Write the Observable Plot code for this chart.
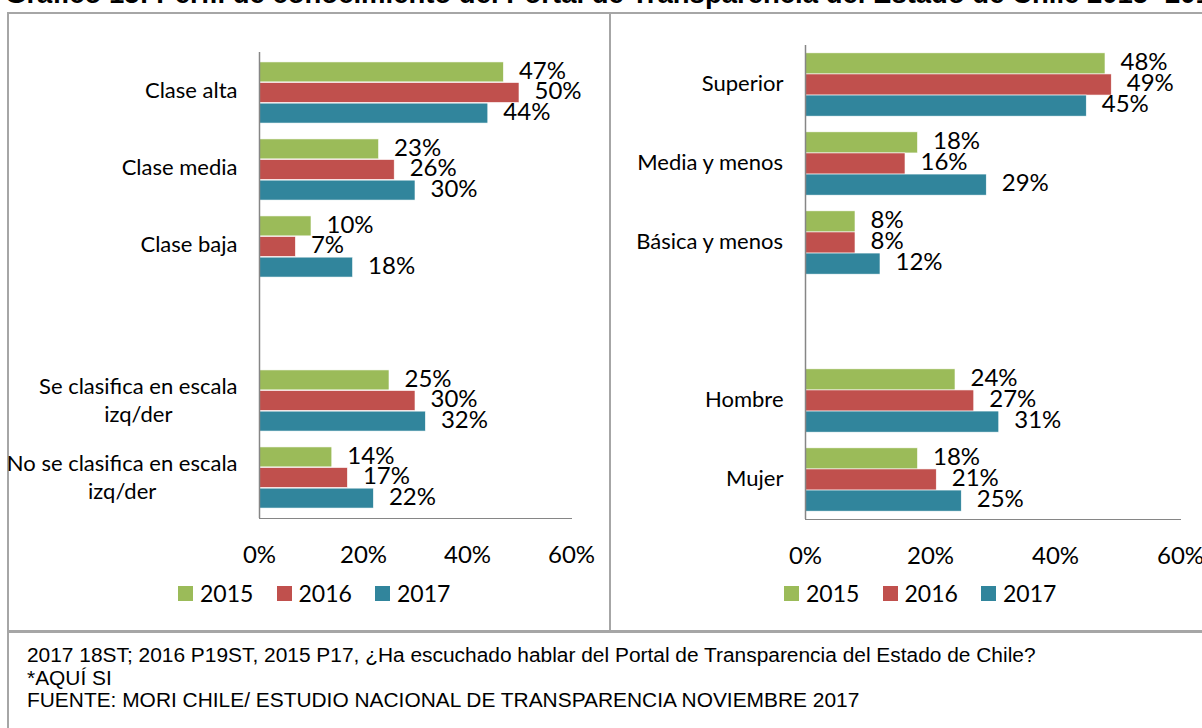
<!DOCTYPE html>
<html>
<head>
<meta charset="utf-8">
<script src="https://cdn.jsdelivr.net/npm/d3@7"></script>
<script src="https://cdn.jsdelivr.net/npm/@observablehq/plot@0.6"></script>
<style>
  html, body { margin: 0; padding: 0; background: #fff; }
  #page { position: relative; width: 1202px; height: 728px; overflow: hidden; background: #fff; }
  .abs { position: absolute; }
  #title { left: 5px; top: -20px; font: bold 27.5px "Liberation Sans", Arial, sans-serif; line-height: 28px; white-space: nowrap; color: #000; }
  .bline { position: absolute; background: #a6a6a6; }
  .legend { position: absolute; top: 578px; height: 30px; font: 23px Lato, sans-serif; color: #000; }
  .legend .item { position: absolute; top: 0; white-space: nowrap; }
  .legend .sw { position: absolute; top: 8px; left: 0; width: 15px; height: 15px; }
  .legend .lab { position: absolute; left: 22px; top: 0; line-height: 30px; }
  #notes { left: 27px; top: 644px; font: 20px "Liberation Sans Narrow", "Arial Narrow", "Liberation Sans", sans-serif; line-height: 22.5px; color: #000; white-space: nowrap; transform: scaleX(1.045); transform-origin: 0 0; }
</style>
</head>
<body>
<div id="page">
  <div id="title" class="abs">Gráfico 15: Perfil de conocimiento del Portal de Transparencia del Estado de Chile 2015- 2017</div>
  <div class="bline" style="left:7px; top:12px; width:1195px; height:2px;"></div>
  <div class="bline" style="left:7px; top:12px; width:2px; height:716px;"></div>
  <div class="bline" style="left:609px; top:12px; width:2px; height:620px;"></div>
  <div class="bline" style="left:7px; top:630px; width:1195px; height:3px;"></div>
  <div id="left" class="abs" style="left:0; top:0;"></div>
  <div id="right" class="abs" style="left:600px; top:0;"></div>
  <div id="legL" class="legend" style="left:178px;"></div>
  <div id="legR" class="legend" style="left:784px;"></div>
  <div id="notes" class="abs"></div>
</div>
<script>
// ---------- data ----------
const years = ["2015", "2016", "2017"];
const colors = ["#9BBB59", "#C0504D", "#31859C"];
const xTicks = [0, 20, 40, 60];

const leftCats = ["Clase alta", "Clase media", "Clase baja", " ", "Se clasifica en escala\nizq/der", "No se clasifica en escala\nizq/der"];
const left2015 = [47, 23, 10, null, 25, 14];
const left2016 = [50, 26, 7, null, 30, 17];
const left2017 = [44, 30, 18, null, 32, 22];

const rightCats = ["Superior", "Media y menos", "Básica y menos", "  ", "Hombre", "Mujer"];
const right2015 = [48, 18, 8, null, 24, 18];
const right2016 = [49, 16, 8, null, 27, 21];
const right2017 = [45, 29, 12, null, 31, 25];

const noteLines = [
  "2017 18ST; 2016 P19ST, 2015 P17, ¿Ha escuchado hablar del Portal de Transparencia del Estado de Chile?",
  "*AQUÍ SI",
  "FUENTE: MORI CHILE/ ESTUDIO NACIONAL DE TRANSPARENCIA NOVIEMBRE 2017"
];

// ---------- helpers ----------
const catFont = "Lato";
const catSize = 22;
const canvas = document.createElement("canvas");
const ctx = canvas.getContext("2d");
function textWidth(s, size, family) {
  ctx.font = `${size}px ${family}`;
  return Math.max(...s.split("\n").map(l => ctx.measureText(l).width));
}

function rowsFor(cats, seriesList) {
  const rows = [];
  seriesList.forEach((vals, i) => {
    vals.forEach((v, j) => {
      if (v != null) rows.push({cat: cats[j], year: years[i], yi: i, value: v});
    });
  });
  return rows;
}

function panel({cats, series, width, height, marginLeft, marginRight, marginTop, marginBottom, barH, labelDy}) {
  const rows = rowsFor(cats, series);
  const band = (height - marginTop - marginBottom) / cats.length;
  const pad = (band - 3 * barH) / 2;
  const marks = [];
  years.forEach((yr, i) => {
    const top = pad + i * barH;
    const bottom = band - top - barH;
    marks.push(Plot.barX(rows, {
      filter: d => d.year === yr, x: "value", y: "cat",
      fill: colors[i], stroke: "#ffffff", strokeWidth: 0.6,
      insetTop: top, insetBottom: bottom
    }));
    marks.push(Plot.text(rows, {
      filter: d => d.year === yr, x: "value", y: "cat",
      text: d => d.value + "%", textAnchor: "start",
      dx: 15, dy: -band / 2 + top + barH / 2 - 1.5,
      fill: "#000", fontSize: 24
    }));
  });
  // category labels (centered block, right edge 22px left of axis)
  cats.forEach(c => {
    if (!c.trim()) return;
    const w = textWidth(c, catSize, catFont);
    const multi = c.includes("\n");
    marks.push(Plot.text([c], {
      x: () => 0, y: d => d, text: d => d,
      textAnchor: "middle", dx: -(22 + w / 2), dy: multi ? labelDy + 2 : labelDy,
      fontSize: catSize, lineHeight: 1.27, fill: "#000"
    }));
  });
  // y axis line
  marks.push(Plot.ruleX([0], {stroke: "#868686", strokeWidth: 1.5}));
  // x tick labels
  marks.push(Plot.text(xTicks, {
    x: d => d, text: d => d + "%", frameAnchor: "bottom",
    dy: 44, fill: "#000", fontSize: 24
  }));
  return Plot.plot({
    width, height, marginLeft, marginRight, marginTop, marginBottom,
    style: {fontFamily: catFont, color: "#868686", background: "transparent", overflow: "visible"},
    x: {domain: [0, 60], ticks: xTicks, tickFormat: () => "", tickSize: 0, line: true, label: null},
    y: {domain: cats, type: "band", padding: 0, axis: null},
    marks
  });
}

document.getElementById("left").append(panel({
  cats: leftCats, series: [left2015, left2016, left2017],
  width: 610, height: 580, marginLeft: 259, marginRight: 39, marginTop: 52, marginBottom: 62, barH: 20.6, labelDy: -4
}));
document.getElementById("right").append(panel({
  cats: rightCats, series: [right2015, right2016, right2017],
  width: 602, height: 580, marginLeft: 205, marginRight: 22, marginTop: 45, marginBottom: 61, barH: 21.1, labelDy: -2.5
}));

// legends
function legend(id) {
  const el = document.getElementById(id);
  years.forEach((yr, i) => {
    const item = document.createElement("div");
    item.className = "item";
    item.style.left = (i * 98.5) + "px";
    item.innerHTML = `<div class="sw" style="background:${colors[i]}"></div><div class="lab">${yr}</div>`;
    el.append(item);
  });
}
legend("legL");
legend("legR");

document.getElementById("notes").innerHTML = noteLines.map(l => `<div>${l}</div>`).join("");
</script>
</body>
</html>
